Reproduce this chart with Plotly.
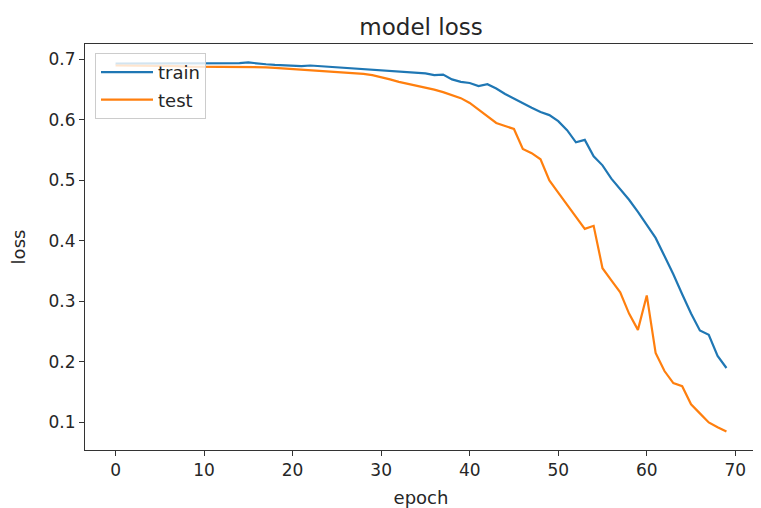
import plotly.graph_objects as go

epochs = list(range(70))

train_loss = [0.693, 0.693, 0.693, 0.693, 0.693, 0.693, 0.693, 0.693, 0.693, 0.693,
              0.693, 0.693, 0.693, 0.693, 0.694, 0.695, 0.693, 0.692, 0.691, 0.690,
              0.689, 0.689, 0.690, 0.689, 0.688, 0.687, 0.686, 0.685, 0.685, 0.684,
              0.683, 0.681, 0.680, 0.680, 0.678, 0.677, 0.674, 0.675, 0.667, 0.663,
              0.661, 0.656, 0.659, 0.652, 0.643, 0.635, 0.627, 0.620, 0.613, 0.608,
              0.598, 0.583, 0.563, 0.567, 0.540, 0.525, 0.503, 0.485, 0.468, 0.448,
              0.427, 0.405, 0.375, 0.345, 0.312, 0.280, 0.252, 0.245, 0.210, 0.190]

test_loss = [0.690, 0.690, 0.690, 0.689, 0.689, 0.689, 0.689, 0.689, 0.688, 0.688,
             0.688, 0.688, 0.688, 0.688, 0.688, 0.688, 0.687, 0.687, 0.686, 0.685,
             0.685, 0.684, 0.683, 0.682, 0.681, 0.680, 0.679, 0.678, 0.676, 0.674,
             0.671, 0.667, 0.663, 0.660, 0.656, 0.653, 0.650, 0.646, 0.641, 0.636,
             0.628, 0.617, 0.605, 0.595, 0.590, 0.585, 0.552, 0.545, 0.535, 0.500,
             0.480, 0.460, 0.440, 0.420, 0.425, 0.355, 0.335, 0.315, 0.280, 0.253,
             0.310, 0.215, 0.185, 0.165, 0.160, 0.130, 0.115, 0.100, 0.092, 0.085]

series_names = ["train", "test"]
series_colors = ["#1f77b4", "#ff7f0e"]
x_ticks = [0, 10, 20, 30, 40, 50, 60, 70]
y_ticks = [0.1, 0.2, 0.3, 0.4, 0.5, 0.6, 0.7]

fig = go.Figure()
for name, vals, col in zip(series_names, [train_loss, test_loss], series_colors):
    fig.add_trace(go.Scatter(x=epochs, y=vals, mode="lines", name=name,
                             legendgroup=name,
                             line=dict(color=col, width=2.2)))

xmin, xmax = min(epochs), max(epochs)
xpad = (xmax - xmin) * 0.05
allv = train_loss + test_loss
ymin, ymax = min(allv), max(allv)
ypad = (ymax - ymin) * 0.05

# page body has an 8px margin; figure is sized to fill the rest of the window
W, H = 753, 500
L, R, T, B = 77, 4, 36, 58
font = "DejaVu Sans"
fig.update_layout(
    width=W, height=H,
    margin=dict(l=L, r=R, t=T, b=B, autoexpand=False),
    paper_bgcolor="white", plot_bgcolor="white",
    font=dict(family=font, size=17, color="#262626"),
    title=dict(text="model loss", x=(L + (W - R)) / 2 / W, xanchor="center",
               y=1 - 19 / H, yanchor="middle", font=dict(size=23, color="#262626")),
    showlegend=True,
    legend=dict(x=10 / (W - L - R), y=1 - 9 / (H - T - B), xanchor="left", yanchor="top",
                bgcolor="rgba(255,255,255,0.8)", bordercolor="#cccccc", borderwidth=1,
                font=dict(size=18, color="#262626"), traceorder="grouped",
                tracegroupgap=1, itemwidth=52),
    xaxis=dict(range=[xmin - xpad, xmax + xpad], tickvals=x_ticks, automargin=False,
               showgrid=False, zeroline=False, showline=True, linecolor="#333333",
               linewidth=1, mirror=True, ticks="outside", ticklen=5, tickcolor="#333333",
               title=dict(text="epoch", standoff=13, font=dict(size=18))),
    yaxis=dict(range=[ymin - ypad, ymax + ypad], tickvals=y_ticks, automargin=False,
               showgrid=False, zeroline=False, showline=True, linecolor="#333333",
               linewidth=1, mirror=True, ticks="outside", ticklen=5, tickcolor="#333333",
               title=dict(text="loss", standoff=18, font=dict(size=18))),
)

fig.write_html("out.html")
